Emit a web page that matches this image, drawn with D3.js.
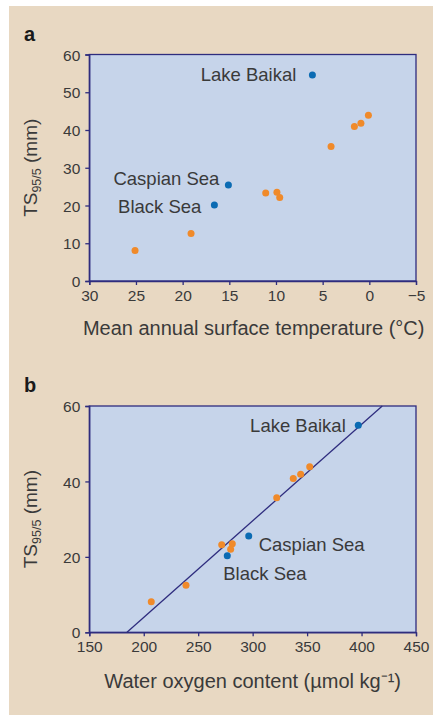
<!DOCTYPE html>
<html lang='en'>
<head>
	<meta charset='utf-8'>
	<title>TS95/5 vs temperature and oxygen</title>
	<script src="https://d3js.org/d3.v7.min.js"></script>
	<style>
		body{margin:0;background:#fff;}
		text{font-family:"Liberation Sans",Arial,sans-serif;fill:#3a3a3a;}
	</style>
</head>
<body>
<div id='chart'></div>
<script type='text/javascript'>
	// panel a : mean annual surface temperature
	const tempOrange = [25.1, 19.1, 11.1, 9.9, 9.6, 4.1, 1.6, 0.9, 0.1];
	const tsOrangeA  = [8.1, 12.6, 23.3, 23.5, 22.1, 35.6, 40.9, 41.8, 43.9];
	const tempBlue   = [6.1, 15.1, 16.6];
	const tsBlueA    = [54.6, 25.4, 20.1];
	// panel b : water oxygen content
	const oxyOrange  = [206.9, 238.8, 271.6, 281.3, 279.8, 322.1, 337.3, 344.1, 352.4];
	const tsOrangeB  = [8.1, 12.5, 23.2, 23.5, 22.0, 35.7, 40.8, 41.9, 43.9];
	const oxyBlue    = [397, 296.4, 276.7];
	const tsBlueB    = [54.9, 25.5, 20.3];
	const lakeNames  = ["Lake Baikal", "Caspian Sea", "Black Sea"];
	const fitX = [184.6, 419];
	const fitY = [0, 60];
	// ticks
	const ticksTempA = [30, 25, 20, 15, 10, 5, 0, -5];
	const ticksTsA   = [0, 10, 20, 30, 40, 50, 60];
	const ticksOxyB  = [150, 200, 250, 300, 350, 400, 450];
	const ticksTsB   = [0, 20, 40, 60];

	const W = 433, H = 715;
	const col = {bg:'#e8d8c2', plot:'#c6d4ea', axis:'#2e2c7e', blue:'#0b6bb3', orange:'#f08a2a'};

	const svg = d3.select("#chart").append("svg")
		.attr("width", W).attr("height", H);

	svg.append("rect").attr("x", 9).attr("y", 6).attr("width", W - 9).attr("height", H - 6).attr("fill", col.bg);

	function panel(opts){
		const g = svg.append("g").attr("transform", `translate(${opts.left},${opts.top})`);
		const x = d3.scaleLinear().domain(opts.xDomain).range([0, opts.width]);
		const y = d3.scaleLinear().domain([0, 60]).range([opts.height, 0]);

		g.append("rect").attr("width", opts.width).attr("height", opts.height)
			.attr("fill", col.plot).attr("stroke", col.axis).attr("stroke-width", 1.3);

		const xa = g.append("g").attr("transform", `translate(0,${opts.height})`)
			.call(d3.axisBottom(x).tickValues(opts.xTicks).tickSize(4).tickPadding(5).tickFormat(d3.format("d")));
		const ya = g.append("g")
			.call(d3.axisLeft(y).tickValues(opts.yTicks).tickSize(4).tickPadding(5));
		[xa, ya].forEach(function(a){
			a.select(".domain").attr("stroke", col.axis).attr("stroke-width", 1.3);
			a.selectAll(".tick line").attr("stroke", col.axis).attr("stroke-width", 1.3);
			a.selectAll(".tick text").attr("font-size", 15.5).attr("font-family", null).attr("fill", "#3a3a3a");
		});
		ya.selectAll(".tick text").attr("dy", "0.36em");

		if(opts.fit){
			g.append("line")
				.attr("x1", x(opts.fit[0][0])).attr("y1", y(opts.fit[1][0]))
				.attr("x2", x(opts.fit[0][1])).attr("y2", y(opts.fit[1][1]))
				.attr("stroke", col.axis).attr("stroke-width", 1.3);
		}

		g.append("g").selectAll("circle")
			.data(opts.ox.map(function(d, i){ return [d, opts.oy[i]]; }))
			.enter().append("circle")
				.attr("cx", function(d){ return x(d[0]); })
				.attr("cy", function(d){ return y(d[1]); })
				.attr("r", 3.5).attr("fill", col.orange);

		const blue = opts.bx.map(function(d, i){ return {x:d, y:opts.by[i], name:lakeNames[i], off:opts.labelOff[i]}; });
		g.append("g").selectAll("circle")
			.data(blue).enter().append("circle")
				.attr("cx", function(d){ return x(d.x); })
				.attr("cy", function(d){ return y(d.y); })
				.attr("r", 3.5).attr("fill", col.blue);
		g.append("g").selectAll("text")
			.data(blue).enter().append("text")
				.attr("x", function(d){ return x(d.x) + d.off[0]; })
				.attr("y", function(d){ return y(d.y) + d.off[1]; })
				.attr("text-anchor", function(d){ return d.off[2]; })
				.attr("font-size", 18.5)
				.text(function(d){ return d.name; });

		// axis titles
		g.append("text")
			.attr("x", opts.width / 2 + opts.xTitleDx).attr("y", opts.height + opts.xTitleDy)
			.attr("text-anchor", "middle").attr("font-size", 20)
			.text(opts.xTitle);

		const yt = g.append("text")
			.attr("transform", `translate(${-52},${opts.height / 2}) rotate(-90)`)
			.attr("text-anchor", "middle").attr("font-size", 19);
		yt.append("tspan").text("TS");
		yt.append("tspan").attr("font-size", 12.5).attr("dy", 4).text("95/5");
		yt.append("tspan").attr("dy", -4).text(" (mm)");

		svg.append("text").attr("x", 24).attr("y", opts.top - 14)
			.attr("font-size", 20).attr("font-weight", "bold")
			.style("fill", "#1a1a1a")
			.text(opts.tag);
	}

	panel({
		left: 89.3, top: 54.5, width: 326.7, height: 226.5,
		xDomain: [30, -5], xTicks: ticksTempA, yTicks: ticksTsA,
		ox: tempOrange, oy: tsOrangeA, bx: tempBlue, by: tsBlueA,
		labelOff: [[-16, 6.5, "end"], [-9, 0, "end"], [-13, 8, "end"]],
		xTitle: "Mean annual surface temperature (\u00B0C)", xTitleDx: 1, xTitleDy: 54,
		tag: "a"
	});

	panel({
		left: 89.3, top: 406, width: 326.7, height: 226.3,
		xDomain: [150, 450], xTicks: ticksOxyB, yTicks: ticksTsB,
		ox: oxyOrange, oy: tsOrangeB, bx: oxyBlue, by: tsBlueB,
		labelOff: [[-12.5, 6.5, "end"], [10, 14.5, "start"], [-4, 24.5, "start"]],
		fit: [fitX, fitY],
		xTitle: "Water oxygen content (\u00B5mol kg\u207B\u00B9)", xTitleDx: 0, xTitleDy: 56,
		tag: "b"
	});
</script>
</body>
</html>
